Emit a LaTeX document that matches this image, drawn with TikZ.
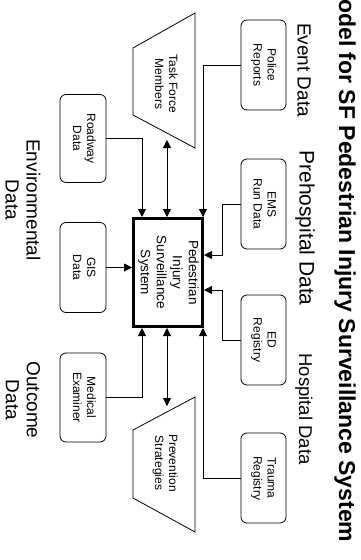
\documentclass[tikz,border=0pt]{standalone}
\usepackage{fontspec}
\setmainfont{Liberation Sans}
\usetikzlibrary{arrows.meta,calc}
\newcommand\vtext[1]{\rotatebox{-90}{\begin{tabular}{@{}c@{}}#1\end{tabular}}}
\begin{document}
\begin{tikzpicture}[x=1pt,y=-1pt,
  databox/.style={draw, rounded corners=6pt, line width=0.8pt, minimum width=45pt, minimum height=90pt, inner sep=0pt, font=\fontsize{12}{14}\selectfont},
  trapbox/.style={line width=0.8pt},
  traptext/.style={inner sep=0pt, font=\fontsize{12}{14}\selectfont},
  conn/.style={line width=0.8pt},
  arr/.style={conn,-{Triangle[length=8pt,width=8pt]}},
  biarr/.style={conn,{Triangle[length=8pt,width=8pt]}-{Triangle[length=8pt,width=8pt]}},
  lbl/.style={rotate=-90, font=\fontsize{19}{21}\selectfont, align=center, inner sep=0pt},
  ]
\useasboundingbox (0,0) rectangle (361,560);

% title and group labels
\node[rotate=-90, anchor=west, inner sep=0pt, font=\bfseries\fontsize{23}{26}\selectfont] (title) at (345,-1) {odel for SF Pedestrian Injury Surveillance System};
\node[lbl] (ev) at (304,70) {Event Data};
\node[lbl, font=\fontsize{21}{23}\selectfont] (pre) at (305,228) {Prehospital Data};
\node[lbl, font=\fontsize{18.5}{21}\selectfont] (hos) at (304,409) {Hospital Data};
\node[lbl] (env) at (23,200) {Environmental\\Data};
\node[lbl] (out) at (23,400) {Outcome\\Data};

% data sources (right)
\node[databox] (pol) at (263.5,65) {\vtext{Police\\Reports}};
\node[databox] (ems) at (263.5,204) {\vtext{EMS\\Run Data}};
\node[databox] (ed)  at (263.5,340) {\vtext{ED\\Registry}};
\node[databox] (tr)  at (263.5,478) {\vtext{Trauma\\Registry}};

% data sources (left)
\node[databox, minimum width=46pt, minimum height=88pt] (rd)  at (83,138.5) {\vtext{Roadway\\Data}};
\node[databox, minimum width=46pt, minimum height=90pt] (gis) at (83,267.5) {\vtext{GIS\\Data}};
\node[databox, minimum width=46pt, minimum height=89pt] (me)  at (83,397.5) {\vtext{Medical\\Examiner}};

% central system
\node[draw, line width=3pt, minimum width=69pt, minimum height=108pt, inner sep=0pt, font=\fontsize{13.5}{16}\selectfont] (pis) at (168,272.5) {\vtext{Pedestrian\\Injury\\Surveillance\\System}};

% trapezoids
\draw[trapbox] (133,48) -- (195,13) -- (195,148) -- (133,115) -- cycle;
\node[traptext] (tf) at (165,84) {\vtext{Task Force\\Members}};
\draw[trapbox] (133,430) -- (195,397) -- (195,532) -- (133,498) -- cycle;
\node[traptext] (ps) at (165,463) {\vtext{Prevention\\Strategies}};

% helper coordinates
\coordinate (tfa) at (167,140);
\coordinate (psa) at (167,406);
\coordinate (cx1) at (142,0);
\coordinate (cx3) at (203,0);
\coordinate (jx) at (222,0);
\coordinate (ry1) at (0,255);
\coordinate (ry2) at (0,290);

% connectors
\draw[arr] (pol.west) -| (pis.north -| cx3);
\draw[arr] (rd.east) -| (pis.north -| cx1);
\draw[biarr] (tfa) -- (pis.north -| tfa);
\draw[arr] (ems.west) -- (ems.west -| jx) |- (pis.east |- ry1);
\draw[arr] (ed.west) -- (ed.west -| jx) |- (pis.east |- ry2);
\draw[arr] (gis.east) -- (gis.east -| pis.west);
\draw[arr] (me.east) -| (pis.south -| cx1);
\draw[arr] (tr.west) -| (pis.south -| cx3);
\draw[biarr] (pis.south -| psa) -- (psa);
\end{tikzpicture}
\end{document}
